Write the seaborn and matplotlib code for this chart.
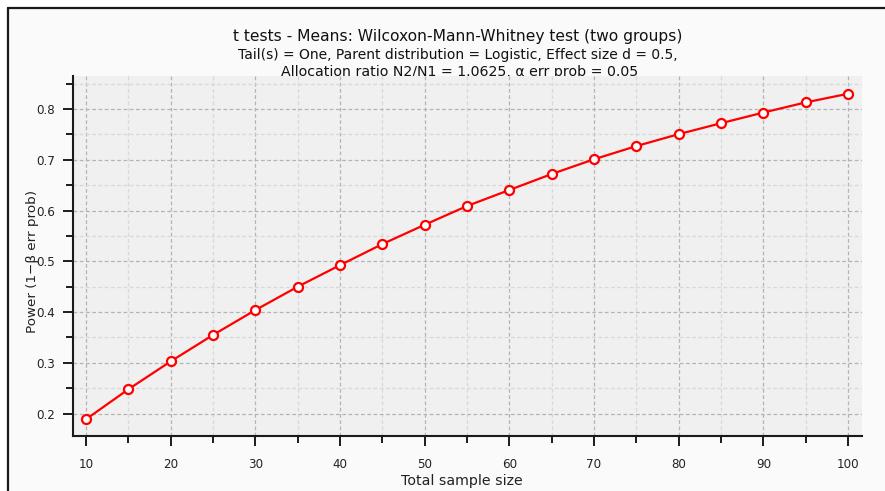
import matplotlib
matplotlib.use("Agg")
import matplotlib.pyplot as plt
from matplotlib.lines import Line2D
from matplotlib.ticker import MultipleLocator, FormatStrFormatter
import pandas as pd
import seaborn as sns

# Power curve: total sample size vs. power
total_sample_size = [10, 15, 20, 25, 30, 35, 40, 45, 50, 55,
                     60, 65, 70, 75, 80, 85, 90, 95, 100]
power = [0.189, 0.248, 0.303, 0.355, 0.404, 0.450, 0.4925, 0.534, 0.572, 0.609,
         0.6405, 0.672, 0.701, 0.727, 0.7505, 0.772, 0.793, 0.813, 0.830]

title_lines = [
    "t tests - Means: Wilcoxon-Mann-Whitney test (two groups)",
    "Tail(s) = One, Parent distribution = Logistic, Effect size d = 0.5,",
    "Allocation ratio N2/N1 = 1.0625, \u03b1 err prob = 0.05",
]
x_label = "Total sample size"
y_label = "Power (1\u2212\u03b2 err prob)"

df = pd.DataFrame({"n": total_sample_size, "power": power})

sns.set_style("white")
plt.rcParams["font.family"] = ["DejaVu Sans"]

W, H = 885, 491
fig = plt.figure(figsize=(W / 100, H / 100), dpi=100, facecolor="white")

# Panel background and frame
fig.patches.append(plt.Rectangle((8 / W, 0), 1, 1 - 8 / H, transform=fig.transFigure,
                                 facecolor="#fafafa", edgecolor="none", zorder=-10))
fig.lines.append(Line2D([8 / W, 1], [1 - 8 / H, 1 - 8 / H], transform=fig.transFigure,
                        color="#1a1a1a", lw=1.6))
fig.lines.append(Line2D([8 / W, 8 / W], [0, 1 - 8 / H], transform=fig.transFigure,
                        color="#1a1a1a", lw=1.6))

ax = fig.add_axes([73 / W, 1 - 436 / H, (862 - 73) / W, (436 - 76) / H])
ax.set_facecolor("#f0f0f0")
ax.set_zorder(1)

sns.lineplot(data=df, x="n", y="power", ax=ax, color="#ff0000", lw=1.6,
             marker="o", markersize=6.5, markerfacecolor="white",
             markeredgecolor="#ff0000", markeredgewidth=1.6, zorder=5)

ax.set_xlim(8.46, 101.65)
ax.set_ylim(0.156, 0.865)
ax.xaxis.set_major_locator(MultipleLocator(10))
ax.xaxis.set_minor_locator(MultipleLocator(5))
ax.yaxis.set_major_locator(MultipleLocator(0.1))
ax.yaxis.set_minor_locator(MultipleLocator(0.05))
ax.yaxis.set_major_formatter(FormatStrFormatter("%.1f"))

ax.grid(True, which="major", color="#b4b4b4", lw=0.9, ls=(0, (3, 2)))
ax.grid(True, which="minor", color="#d8d8d8", lw=0.9, ls=(0, (3, 2)))
ax.set_axisbelow(True)

for s in ["top", "right"]:
    ax.spines[s].set_visible(False)
for s in ["left", "bottom"]:
    ax.spines[s].set_color("#1a1a1a")
    ax.spines[s].set_linewidth(1.5)

ax.tick_params(which="major", direction="out", length=7.2, width=1.4,
               color="#1a1a1a", labelsize=8.6, labelcolor="#222222",
               left=True, bottom=True)
ax.tick_params(which="minor", direction="out", length=5, width=1.4,
               color="#1a1a1a", left=True, bottom=True)
ax.tick_params(axis="x", which="major", pad=9)
ax.tick_params(axis="y", which="major", pad=5.8)

ax.set_xlabel("")
ax.set_ylabel("")
fig.text(462 / W, 1 - 481 / H, x_label, ha="center", va="center",
         fontsize=10.2, color="#222222")
fig.text(33 / W, 1 - 261 / H, y_label, ha="center", va="center", rotation=90,
         fontsize=9.7, color="#222222")

# Title block; the plot panel sits on top of the last line
fig.text(458 / W, 1 - 36 / H, title_lines[0], ha="center", va="center",
         fontsize=11.2, color="#111111", zorder=0)
fig.text(458 / W, 1 - 55 / H, title_lines[1], ha="center", va="center",
         fontsize=10.0, color="#111111", zorder=0)
fig.text(460 / W, 1 - 72 / H, title_lines[2], ha="center", va="center",
         fontsize=10.2, color="#111111", zorder=0)

fig.savefig("out.png", dpi=100, facecolor=fig.get_facecolor())
